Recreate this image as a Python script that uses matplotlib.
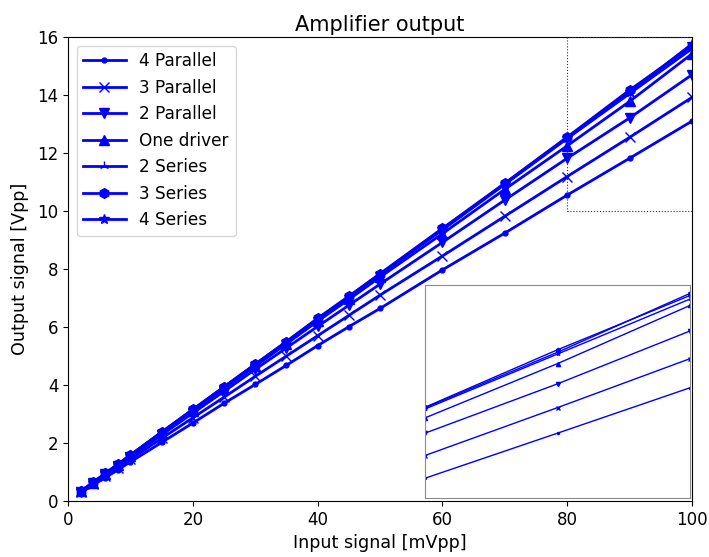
import matplotlib
matplotlib.use("Agg")
import matplotlib.pyplot as plt
from matplotlib.patches import Rectangle

# Input amplitude steps (mVpp)
input_mvpp = [2, 4, 6, 8, 10, 15, 20, 25, 30, 35, 40, 45, 50, 60, 70, 80, 90, 100]

# Measured output amplitude (Vpp) per speaker configuration
par4 = [0.28, 0.55, 0.81, 1.08, 1.35, 2.02, 2.69, 3.37, 4.02, 4.68, 5.36, 6.01, 6.64, 7.97, 9.24, 10.55, 11.82, 13.10]
par3 = [0.30, 0.59, 0.87, 1.15, 1.44, 2.16, 2.87, 3.58, 4.30, 5.00, 5.70, 6.40, 7.10, 8.45, 9.82, 11.19, 12.54, 13.92]
par2 = [0.32, 0.62, 0.92, 1.22, 1.52, 2.28, 3.03, 3.78, 4.54, 5.28, 6.02, 6.75, 7.48, 8.92, 10.38, 11.82, 13.21, 14.70]
one_driver = [0.33, 0.63, 0.94, 1.25, 1.56, 2.33, 3.10, 3.88, 4.65, 5.42, 6.20, 6.95, 7.72, 9.22, 10.75, 12.25, 13.78, 15.42]
ser2 = [0.33, 0.63, 0.95, 1.26, 1.58, 2.36, 3.14, 3.92, 4.70, 5.48, 6.27, 7.03, 7.80, 9.35, 10.92, 12.50, 14.05, 15.60]
ser3 = [0.34, 0.64, 0.96, 1.27, 1.59, 2.38, 3.16, 3.94, 4.72, 5.50, 6.30, 7.06, 7.84, 9.40, 10.96, 12.55, 14.17, 15.70]
ser4 = [0.33, 0.63, 0.95, 1.27, 1.58, 2.37, 3.15, 3.93, 4.71, 5.49, 6.28, 7.05, 7.82, 9.38, 10.94, 12.53, 14.10, 15.76]

labels = ["4 Parallel", "3 Parallel", "2 Parallel", "One driver", "2 Series", "3 Series", "4 Series"]
markers = [".", "x", "v", "^", "2", "h", "*"]
series = [par4, par3, par2, one_driver, ser2, ser3, ser4]

zoom_x = (80, 100)
zoom_y = (10, 16)

plt.rcParams["font.size"] = 12

fig = plt.figure(figsize=(7.09, 5.57), dpi=100)
ax = fig.add_axes([0.096, 0.1005, 0.88, 0.833])

for ys, lab, m in zip(series, labels, markers):
    ax.plot(input_mvpp, ys, color="blue", marker=m, linewidth=2, markersize=7, label=lab)

ax.set_xlim(0, 100)
ax.set_ylim(0, 16)
ax.set_title("Amplifier output", fontsize=15, pad=4)
ax.set_xlabel("Input signal [mVpp]", fontsize=12.6)
ax.set_ylabel("Output signal [Vpp]", fontsize=12.6, labelpad=6)
ax.legend(loc="upper left", fontsize=12.2, handlelength=2.5)

# Zoomed view of the high-amplitude end
axins = ax.inset_axes([0.572, 0.007, 0.425, 0.459])
for ys, m in zip(series, markers):
    axins.plot(input_mvpp, ys, color="blue", marker=m, linewidth=1, markersize=3)
axins.set_xlim(*zoom_x)
axins.set_ylim(*zoom_y)
axins.set_xticks([])
axins.set_yticks([])
for sp in axins.spines.values():
    sp.set_edgecolor("0.55")

ax.add_patch(Rectangle((zoom_x[0], zoom_y[0]), zoom_x[1] - zoom_x[0], zoom_y[1] - zoom_y[0],
                       fill=False, edgecolor="#1f2f5f", linestyle=":", linewidth=0.8, zorder=5))

fig.savefig("out.png", dpi=100)
